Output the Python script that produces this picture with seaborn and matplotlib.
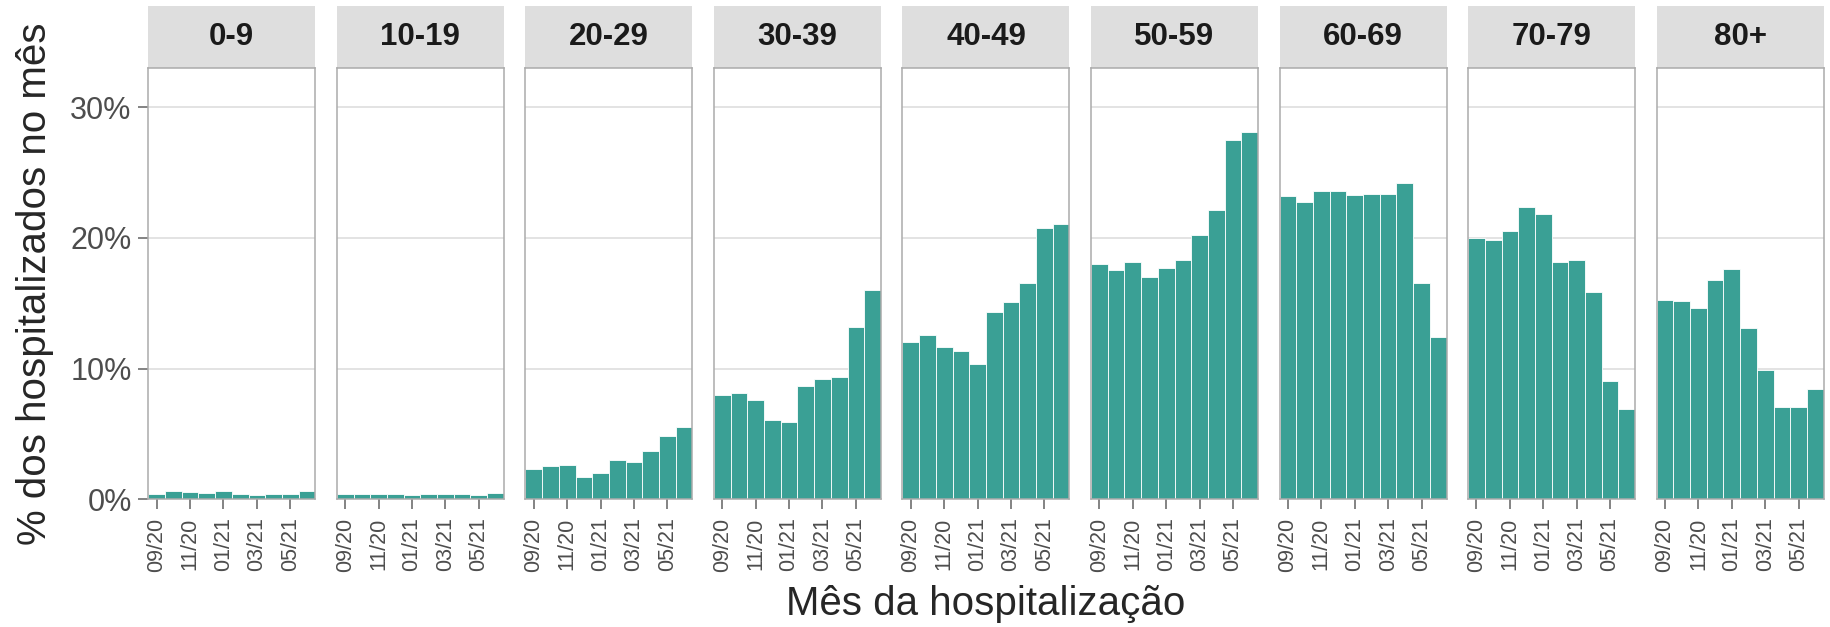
import pandas as pd
import matplotlib.pyplot as plt
import seaborn as sns
from matplotlib.patches import Rectangle

sns.set_style("white")
plt.rcParams['font.family'] = ['Liberation Sans', 'DejaVu Sans']

meses = ['09/20', '10/20', '11/20', '12/20', '01/21',
         '02/21', '03/21', '04/21', '05/21', '06/21']
faixas = ['0-9', '10-19', '20-29', '30-39', '40-49',
          '50-59', '60-69', '70-79', '80+']

# % dos hospitalizados no mes, por faixa etaria
pct_0_9 = [0.45, 0.63, 0.57, 0.51, 0.63, 0.39, 0.33, 0.45, 0.45, 0.63]
pct_10_19 = [0.45, 0.45, 0.39, 0.39, 0.33, 0.39, 0.39, 0.45, 0.33, 0.51]
pct_20_29 = [2.36, 2.57, 2.63, 1.69, 2.05, 3.02, 2.84, 3.72, 4.83, 5.56]
pct_30_39 = [7.98, 8.13, 7.61, 6.10, 5.95, 8.70, 9.21, 9.34, 13.20, 16.01]
pct_40_49 = [12.02, 12.60, 11.66, 11.39, 10.39, 14.32, 15.11, 16.59, 20.79, 21.09]
pct_50_59 = [17.98, 17.58, 18.13, 16.98, 17.70, 18.31, 20.24, 22.11, 27.49, 28.10]
pct_60_69 = [23.20, 22.78, 23.56, 23.56, 23.26, 23.38, 23.38, 24.17, 16.53, 12.39]
pct_70_79 = [20.03, 19.88, 20.51, 22.39, 21.84, 18.19, 18.31, 15.86, 9.06, 6.95]
pct_80 = [15.26, 15.20, 14.65, 16.80, 17.64, 13.08, 9.88, 7.10, 7.10, 8.46]

series = [pct_0_9, pct_10_19, pct_20_29, pct_30_39, pct_40_49,
          pct_50_59, pct_60_69, pct_70_79, pct_80]

linhas = []
for faixa, valores in zip(faixas, series):
    for mes, v in zip(meses, valores):
        linhas.append({'faixa': faixa, 'mes': mes, 'pct': v})
dfHosp = pd.DataFrame(linhas)

cor_barra = '#3AA095'
cor_borda = '#ABABAB'
cor_texto = '#4D4D4D'

g = sns.catplot(
    data=dfHosp, x='mes', y='pct', col='faixa', col_order=faixas,
    order=meses, kind='bar', color=cor_barra, saturation=1,
    errorbar=None, width=1.0, edgecolor='white', linewidth=0.6,
    sharey=True, height=4, aspect=0.4, facet_kws=dict(despine=False)
)
fig = g.figure
fig.set_size_inches(18.31, 6.27)
fig.subplots_adjust(left=0.081, right=0.996, bottom=0.2035, top=0.8915, wspace=0.129)

strip_h = 62 / 431.4
for i, (ax, faixa) in enumerate(zip(g.axes.flat, faixas)):
    ax.set_title('')
    ax.set_xlabel('')
    ax.set_ylabel('')
    ax.set_xlim(-0.5, 9.5)
    ax.set_ylim(0, 33)
    ax.set_yticks([0, 10, 20, 30])
    ax.set_yticklabels(['0%', '10%', '20%', '30%'])
    ax.set_xticks([0, 2, 4, 6, 8])
    ax.set_xticklabels([meses[k] for k in [0, 2, 4, 6, 8]], rotation=90)
    ax.grid(axis='y', color='#DEDEDE', linewidth=1.2)
    ax.set_axisbelow(True)
    for sp in ax.spines.values():
        sp.set_color(cor_borda)
        sp.set_linewidth(1.1)
        sp.set_zorder(5)
    ax.tick_params(axis='x', length=7, width=1.3, color='#7A7A7A',
                   labelsize=15.5, labelcolor=cor_texto, pad=6, bottom=True)
    ax.tick_params(axis='y', length=7, width=1.3, color='#7A7A7A',
                   labelsize=22, labelcolor=cor_texto, pad=5, left=(i == 0),
                   labelleft=(i == 0))
    ax.add_patch(Rectangle((0, 1), 1, strip_h, transform=ax.transAxes,
                           facecolor='#DEDEDE', edgecolor='none', clip_on=False))
    ax.text(0.5, 1 + strip_h / 2, faixa, transform=ax.transAxes,
            ha='center', va='center', fontsize=22.5, fontweight='bold',
            color='#1A1A1A')

fig.text(0.5385, 0.019, 'Mês da hospitalização', ha='center', va='baseline',
         fontsize=29)
fig.text(0.019, 0.5475, '% dos hospitalizados no mês', rotation=90,
         ha='center', va='center', fontsize=29)

fig.savefig('out.png', dpi=100)
